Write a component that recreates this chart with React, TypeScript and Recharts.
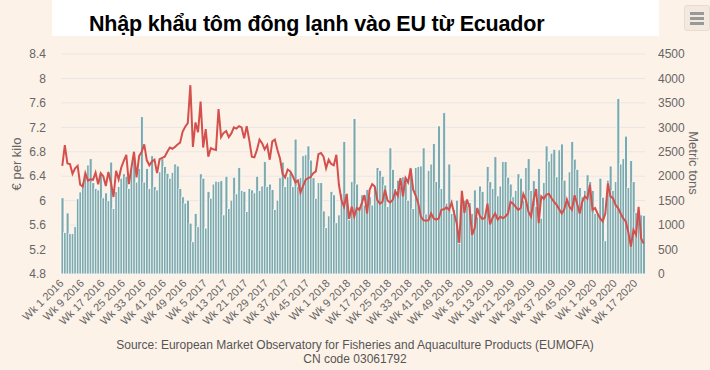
import React from "react";
import { ComposedChart, Bar, Line, XAxis, YAxis, CartesianGrid } from "recharts";

// weekly EU import of frozen shrimp from Ecuador (EUMOFA)
const years = [2016, 2017, 2018, 2019, 2020];
const weeksInYear = [52, 52, 52, 52, 20];

// € per kilo
const price2016 = [
  6.57, 6.91, 6.61, 6.6, 6.44, 6.53, 6.57, 6.26, 6.23, 6.45,
  6.33, 6.35, 6.34, 6.46, 6.27, 6.45, 6.4, 6.24, 6.47, 6.29,
  6.06, 6.49, 6.35, 6.54, 6.65, 6.75, 6.27, 6.54, 6.8, 6.38,
  6.73, 6.8, 6.92, 6.66, 6.58, 6.64, 6.67, 6.45, 6.68, 6.7,
  6.72, 6.8, 6.87, 6.85, 6.88, 6.92, 6.95, 7.13, 7.21, 7.27,
  7.89, 6.88,
];
const price2017 = [
  7.28, 7.12, 7.62, 6.87, 7.17, 6.72, 6.86, 6.84, 6.83, 7.5,
  7.04, 7.11, 7.14, 7.04, 7.1, 7.2, 7.18, 7.22, 7.2, 7.02,
  7.22, 6.99, 6.72, 6.71, 6.83, 7.0, 6.94, 6.84, 6.91, 6.67,
  6.97, 7.0, 6.83, 6.69, 6.44, 6.38, 6.51, 6.48, 6.4, 6.3,
  6.33, 6.13, 6.24, 6.34, 6.37, 6.39, 6.45, 6.48, 6.76, 6.78,
  6.72, 6.53,
];
const price2018 = [
  6.67, 6.6, 6.58, 6.75, 6.26, 6.01, 5.9, 6.11, 5.7, 5.9,
  5.74, 5.88, 5.85, 5.97, 6.09, 5.79, 6.18, 6.27, 6.23, 6.01,
  5.95, 5.98, 6.18, 6.0, 5.97, 6.01, 6.15, 6.08, 6.37, 6.07,
  6.37, 6.3, 6.53, 6.18, 6.08, 5.95, 5.74, 5.68, 5.67, 5.68,
  5.79, 5.71, 5.69, 5.71, 5.85, 5.86, 5.89, 5.85, 5.97, 5.79,
  5.63, 5.31,
];
const price2019 = [
  6.16, 5.8, 6.02, 5.89, 5.44, 5.55, 5.88, 5.75, 5.7, 5.72,
  5.95, 5.61, 5.72, 5.79, 5.69, 5.74, 5.71, 5.74, 5.79, 5.98,
  5.95, 5.9, 5.85, 5.88, 6.11, 6.01, 5.82, 5.74, 6.01, 6.19,
  5.63, 6.07, 6.03, 6.1, 6.11, 6.04, 5.98, 5.93, 5.86, 5.79,
  5.86, 6.02, 5.9, 5.85, 6.09, 5.95, 5.79, 5.98, 6.07, 6.03,
  6.26, 5.85,
];
const price2020 = [
  5.88, 5.79, 5.71, 5.66, 5.79, 6.28, 6.07, 6.04, 5.93, 5.88,
  5.79, 5.71, 5.66, 5.48, 5.25, 5.52, 5.44, 5.9, 5.38, 5.3,
];

// metric tons
const vol2016 = [
  1560, 850, 1250, 830, 830, 970, 1540, 1680, 1870, 1990,
  2230, 2360, 1870, 1750, 1720, 2060, 1560, 1660, 1500, 2290,
  1340, 1690, 1790, 1960, 2050, 2000, 1750, 2160, 2390, 1880,
  2160, 3220, 1880, 2160, 1750, 2420, 1790, 1720, 2090, 2360,
  2200, 2060, 1960, 2080, 2250, 2210, 1750, 1580, 1450, 1510,
  1040, 660,
];
const vol2017 = [
  1240, 970, 2050, 1960, 940, 1690, 1550, 1840, 1900, 1890,
  1910, 1210, 2000, 1340, 1510, 1980, 1640, 2180, 1710, 1690,
  1280, 1750, 1720, 1660, 2000, 1710, 1800, 2300, 1790, 1840,
  1730, 1320, 1510, 1970, 2290, 1790, 1990, 2070, 1790, 2760,
  1790, 1970, 2420, 2440, 2620, 2330, 1970, 1550, 1870, 1870,
  1290, 950,
];
const vol2018 = [
  1190, 1690, 1620, 1050, 1210, 1640, 2710, 1650, 1110, 1890,
  3180, 1840, 1380, 1620, 1410, 1730, 1580, 1410, 1770, 2180,
  2120, 2000, 1820, 1380, 2580, 2140, 1750, 1920, 1790, 1990,
  1980, 1510, 2150, 1340, 2180, 2200, 2210, 2580, 1230, 2120,
  2250, 2670, 1890, 3030, 1750, 3300, 1450, 2250, 1240, 1320,
  1510, 630,
];
const vol2019 = [
  1430, 1510, 1410, 1460, 1240, 1720, 1170, 1800, 1690, 1210,
  2200, 1890, 1750, 2400, 1600, 1800, 2300, 2300, 1980, 1840,
  1580, 1710, 2050, 1960, 1510, 2180, 2360, 1710, 1910, 1380,
  2160, 1140, 1870, 2620, 2310, 2470, 2550, 1990, 2540, 2660,
  1920, 1510, 2090, 2710, 2350, 2140, 1770, 1580, 1710, 2030,
  1890, 1710,
];
const vol2020 = [
  1240, 1240, 1960, 1570, 680, 1920, 2210, 1710, 1890, 3590,
  2250, 2360, 2820, 1770, 2320, 1890, 1260, 1260, 1210, 1200,
];

const priceTicks = [4.8, 5.2, 5.6, 6, 6.4, 6.8, 7.2, 7.6, 8, 8.4];
const volTicks = [0, 500, 1000, 1500, 2000, 2500, 3000, 3500, 4000, 4500];

const weeks: string[] = [];
years.forEach((yr, k) => {
  for (let w = 1; w <= weeksInYear[k]; w++) weeks.push(`Wk ${w} ${yr}`);
});
const price = [...price2016, ...price2017, ...price2018, ...price2019, ...price2020];
const volume = [...vol2016, ...vol2017, ...vol2018, ...vol2019, ...vol2020];
const data = weeks.map((week, i) => ({ week, price: price[i], volume: volume[i] }));

const font = '"Liberation Sans", Arial, sans-serif';

const WeekTick = ({ x, y, payload }: any) => (
  <g transform={`translate(${x + 2},${y + 10}) rotate(-45)`}>
    <text x={0} y={0} textAnchor="end" fontSize={11} fill="#666" fontFamily={font}>
      {payload.value}
    </text>
  </g>
);

export default function App() {
  return (
    <div style={{ position: "fixed", left: 0, top: 0, width: 710, height: 370, background: "#fdf2e8", fontFamily: font }}>
      <div style={{ position: "absolute", left: 52, top: 0, width: 607, height: 36, background: "#fff" }} />
      <div style={{ position: "absolute", left: 89, top: 12, fontSize: 21.5, letterSpacing: -0.2, fontWeight: "bold", color: "#000", whiteSpace: "nowrap" }}>
        Nhập khẩu tôm đông lạnh vào EU từ Ecuador
      </div>
      <div style={{ position: "absolute", left: 684, top: 5, width: 24, height: 24, borderRadius: 3, background: "#f3e9df", border: "1px solid #e6dccf" }}>
        {[6, 11, 16].map((t) => (
          <div key={t} style={{ position: "absolute", left: 5, top: t, width: 14, height: 3, background: "#999" }} />
        ))}
      </div>
      <ComposedChart width={710} height={370} data={data} margin={{ top: 54, right: 0, bottom: 0, left: 0 }} barCategoryGap={0} barGap={0}>
        <CartesianGrid vertical={false} stroke="#e6e6e6" yAxisId="price" />
        <XAxis dataKey="week" interval={7} height={96} tickLine={false} tickSize={0} tickMargin={0} axisLine={false} tick={<WeekTick />} />
        <YAxis yAxisId="price" domain={[4.8, 8.4]} ticks={priceTicks} width={61} axisLine={false} tickLine={false} tickSize={0} tickMargin={15} tick={{ fontSize: 12, fill: "#666", fontFamily: font }} />
        <YAxis yAxisId="vol" orientation="right" domain={[0, 4500]} ticks={volTicks} width={65} axisLine={false} tickLine={false} tickSize={0} tickMargin={13} tick={{ fontSize: 12, fill: "#666", fontFamily: font, textAnchor: "start" }} />
        <Bar yAxisId="vol" dataKey="volume" fill="#7ea9ac" stroke="#ffffff" strokeWidth={0.8} isAnimationActive={false} />
        <Line yAxisId="price" dataKey="price" type="linear" stroke="#d4504c" strokeWidth={2} dot={false} isAnimationActive={false} />
      </ComposedChart>
      <div style={{ position: "absolute", left: 16, top: 164, transform: "translate(-50%, -50%) rotate(-90deg)", fontSize: 13, color: "#666", whiteSpace: "nowrap" }}>
        € per kilo
      </div>
      <div style={{ position: "absolute", left: 693, top: 163, transform: "translate(-50%, -50%) rotate(90deg)", fontSize: 13, color: "#666", whiteSpace: "nowrap" }}>
        Metric tons
      </div>
      <div style={{ position: "absolute", left: 0, top: 338, width: 710, textAlign: "center", fontSize: 12, color: "#555", lineHeight: "14px" }}>
        Source: European Market Observatory for Fisheries and Aquaculture Products (EUMOFA)
        <br />
        CN code 03061792
      </div>
    </div>
  );
}
